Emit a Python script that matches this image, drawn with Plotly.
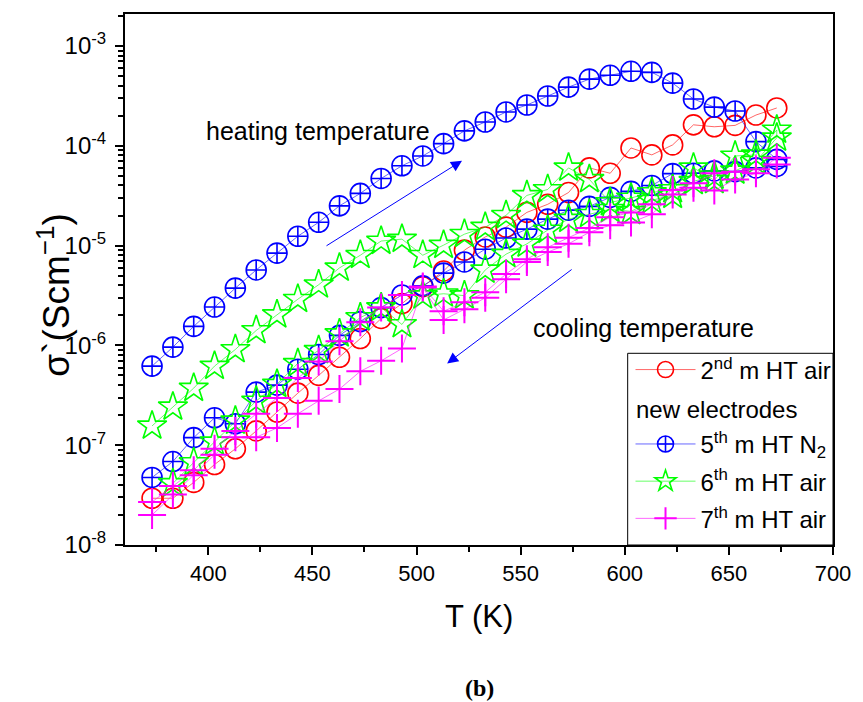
import plotly.graph_objects as go

# Temperatures (K)
T_heat = [373, 383, 393, 403, 413, 423, 433, 443, 453, 463, 473, 483, 493, 503, 513, 523,
          533, 543, 553, 563, 573, 583, 593, 603, 613, 623, 633, 643, 653, 663, 673]
T_cool = [673, 663, 653, 643, 633, 623, 613, 603, 593, 583, 573, 563, 553, 543, 533, 523,
          513, 503, 493, 483, 473, 463, 453, 443, 433, 423, 413, 403, 393, 383, 373]
T_cool_g = T_cool[:-1]

# 2nd measurement, HT air, new electrodes (single run)
sig_red = [2.94e-8, 2.94e-8, 4.24e-8, 6.4e-8, 9.2e-8, 1.39e-7, 2.15e-7, 3.32e-7, 5.0e-7, 7.6e-7,
           1.17e-6, 1.86e-6, 2.62e-6, 3.87e-6, 5.57e-6, 9.0e-6, 1.22e-5, 1.53e-5, 2.15e-5, 2.59e-5,
           3.4e-5, 6.0e-5, 5.3e-5, 9.5e-5, 8.1e-5, 1.02e-4, 1.62e-4, 1.55e-4, 1.6e-4, 2.03e-4, 2.39e-4]

# 5th measurement, HT N2
sig_blue_heat = [6.2e-7, 9.6e-7, 1.55e-6, 2.42e-6, 3.75e-6, 5.7e-6, 8.4e-6, 1.24e-5, 1.71e-5, 2.5e-5,
                 3.33e-5, 4.7e-5, 6.3e-5, 7.9e-5, 1.05e-4, 1.41e-4, 1.73e-4, 2.18e-4, 2.56e-4, 3.15e-4,
                 3.87e-4, 4.65e-4, 5.08e-4, 5.57e-4, 5.44e-4, 4.24e-4, 2.94e-4, 2.44e-4, 2.23e-4, 1.1e-4, 7.3e-5]
sig_blue_cool = [6.2e-5, 6.0e-5, 5.5e-5, 5.6e-5, 5.3e-5, 5.26e-5, 4.0e-5, 3.49e-5, 3.04e-5, 2.47e-5,
                 2.26e-5, 1.84e-5, 1.46e-5, 1.19e-5, 9.2e-6, 6.85e-6, 5.3e-6, 3.95e-6, 3.2e-6, 2.39e-6,
                 1.73e-6, 1.26e-6, 8.1e-7, 5.77e-7, 4.0e-7, 3.4e-7, 1.64e-7, 1.88e-7, 1.19e-7, 6.86e-8, 4.75e-8]

# 6th measurement, HT air
sig_green_heat = [1.56e-7, 2.42e-7, 3.73e-7, 6.2e-7, 9.1e-7, 1.41e-6, 2.03e-6, 2.9e-6, 4.05e-6, 5.97e-6,
                  8.0e-6, 1.11e-5, 1.16e-5, 8.0e-6, 1.01e-5, 1.3e-5, 1.53e-5, 2.01e-5, 3.18e-5, 3.65e-5,
                  6.0e-5, 4.6e-5, 2.7e-5, 3.0e-5, 3.4e-5, 3.65e-5, 6.0e-5, 4.5e-5, 7.9e-5, 8.1e-5, 1.44e-4]
sig_green_cool = [1.2e-4, 7.0e-5, 5.6e-5, 5.0e-5, 4.4e-5, 3.2e-5, 2.84e-5, 2.2e-5, 2.31e-5, 2.06e-5,
                  1.84e-5, 1.43e-5, 1.04e-5, 8.2e-6, 5.7e-6, 3.15e-6, 3.29e-6, 3.15e-6, 1.62e-6, 2.39e-6,
                  1.9e-6, 1.31e-6, 8.9e-7, 6.6e-7, 4.09e-7, 2.77e-7, 1.75e-7, 1.08e-7, 6.7e-8, 4.14e-8]

# 7th measurement, HT air
sig_mag_heat = [2.0e-8, 3.2e-8, 5.0e-8, 8.0e-8, 1.2e-7, 1.2e-7, 1.49e-7, 2.06e-7, 2.78e-7, 3.65e-7,
                5.5e-7, 7.0e-7, 9.3e-7, 3.8e-6, 1.8e-6, 2.3e-6, 3.0e-6, 4.6e-6, 6.85e-6, 8.6e-6,
                1.04e-5, 1.36e-5, 1.6e-5, 1.7e-5, 2.06e-5, 3.25e-5, 3.8e-5, 3.56e-5, 4.6e-5, 5.3e-5, 7.6e-5]
sig_mag_cool = [6.5e-5, 5.8e-5, 5.5e-5, 5.3e-5, 4.2e-5, 3.6e-5, 2.6e-5, 2.15e-5, 1.92e-5, 1.5e-5,
                1.2e-5, 9.6e-6, 7.3e-6, 5.2e-6, 3.4e-6, 2.7e-6, 2.2e-6, 3.9e-6, 3.2e-6, 2.4e-6,
                1.7e-6, 1.1e-6, 6.9e-7, 4.7e-7, 2.97e-7, 2.06e-7, 1.39e-7, 9.2e-8, 5.6e-8, 3.9e-8, 2.7e-8]

names = ["2<sup>nd</sup> m HT air", "5<sup>th</sup> m HT N<sub>2</sub>",
         "6<sup>th</sup> m HT air", "7<sup>th</sup> m HT air"]
legend_note = "new electrodes"

x_ticks = [400, 450, 500, 550, 600, 650, 700]
x_minor = [375, 425, 475, 525, 575, 625, 675]
y_ticks = [1e-8, 1e-7, 1e-6, 1e-5, 1e-4, 1e-3]
y_ticktext = ["10<sup>-8</sup>", "10<sup>-7</sup>", "10<sup>-6</sup>", "10<sup>-5</sup>",
              "10<sup>-4</sup>", "10<sup>-3</sup>"]
y_minor = [k * d for d in [1e-8, 1e-7, 1e-6, 1e-5, 1e-4, 1e-3] for k in range(2, 10) if k * d < 2.1e-3]

fig = go.Figure()
fig.add_trace(go.Scatter(x=T_heat, y=sig_red, name=names[0], mode="lines+markers", legendgroup="a",
                         line=dict(color="#FF0000", width=0.6),
                         marker=dict(symbol="circle-open", size=20, color="#FF0000", line=dict(width=1.6))))
# empty legend row that holds the "new electrodes" line
fig.add_trace(go.Scatter(x=[None], y=[None], name=" ", mode="markers", legendgroup="b",
                         marker=dict(opacity=0), hoverinfo="skip"))
fig.add_trace(go.Scatter(x=T_heat + T_cool, y=sig_blue_heat + sig_blue_cool, name=names[1],
                         mode="lines+markers", legendgroup="c",
                         line=dict(color="#0000FF", width=0.6),
                         marker=dict(symbol="circle-cross-open", size=20, color="#0000FF", line=dict(width=1.6))))
fig.add_trace(go.Scatter(x=T_heat + T_cool_g, y=sig_green_heat + sig_green_cool, name=names[2],
                         mode="lines+markers", legendgroup="d",
                         line=dict(color="#00FF00", width=0.6),
                         marker=dict(symbol="star-open", size=22, color="#00FF00", line=dict(width=1.6))))
fig.add_trace(go.Scatter(x=T_heat + T_cool, y=sig_mag_heat + sig_mag_cool, name=names[3],
                         mode="lines+markers", legendgroup="e",
                         line=dict(color="#FF00FF", width=0.6),
                         marker=dict(symbol="cross-thin-open", size=20, color="#FF00FF", line=dict(width=2))))

axis_common = dict(showline=True, linewidth=2, linecolor="black", mirror=True, ticks="outside",
                   tickwidth=2, tickcolor="black", ticklen=8, showgrid=False, zeroline=False)

fig.update_xaxes(range=[360, 700], tickmode="array", tickvals=x_ticks,
                 tickfont=dict(size=22, color="black"),
                 minor=dict(tickmode="array", tickvals=x_minor, ticks="outside", ticklen=5,
                            tickwidth=1.5, tickcolor="black"),
                 **axis_common)
fig.update_yaxes(type="log", range=[-8, -2.68], tickmode="array", tickvals=y_ticks, ticktext=y_ticktext,
                 tickfont=dict(size=24, color="black"), ticklabelstandoff=4,
                 minor=dict(tickmode="array", tickvals=y_minor, ticks="outside", ticklen=5,
                            tickwidth=1.5, tickcolor="black"),
                 **axis_common)

fig.update_layout(
    width=863, height=702,
    margin=dict(l=125, r=24, t=13, b=157),
    paper_bgcolor="white", plot_bgcolor="white",
    font=dict(family="Liberation Sans, Arial, sans-serif", color="black"),
    legend=dict(x=0.714, y=0.372, xanchor="left", yanchor="top", bgcolor="rgba(0,0,0,0)",
                borderwidth=0, font=dict(size=24), itemwidth=60, tracegroupgap=3,
                traceorder="grouped"),
    shapes=[dict(type="rect", xref="paper", yref="paper", x0=0.71, x1=1.0, y0=0.0, y1=0.361,
                 fillcolor="white", line=dict(color="black", width=1), layer="above")],
    annotations=[
        dict(text=legend_note, xref="paper", yref="paper", x=0.7185, y=0.2555, showarrow=False,
             font=dict(size=24), xanchor="left", yanchor="middle"),
        dict(text="T (K)", xref="paper", yref="paper", x=0.5, y=-0.135, showarrow=False,
             font=dict(size=31), xanchor="center", yanchor="middle"),
        dict(text="σ`(Scm<sup>−1</sup>)", xref="paper", yref="paper", x=-0.1, y=0.47,
             showarrow=False, textangle=-90, font=dict(size=37), xanchor="center", yanchor="middle"),
        dict(text="<b>(b)</b>", xref="paper", yref="paper", x=0.5, y=-0.269, showarrow=False,
             font=dict(size=24, family="Liberation Serif, Times New Roman, serif"),
             xanchor="center", yanchor="middle"),
        dict(text="heating temperature", xref="paper", yref="paper", x=0.273, y=0.78,
             showarrow=False, font=dict(size=25), xanchor="center", yanchor="middle"),
        dict(text="cooling temperature", xref="paper", yref="paper", x=0.7325, y=0.408,
             showarrow=False, font=dict(size=25), xanchor="center", yanchor="middle"),
        dict(text="", xref="paper", yref="paper", x=0.476, y=0.7237, ax=-137, ay=86,
             showarrow=True, arrowhead=2, arrowsize=2.2, arrowwidth=1, arrowcolor="#0000FF"),
        dict(text="", xref="paper", yref="paper", x=0.455, y=0.342, ax=126, ay=-95,
             showarrow=True, arrowhead=2, arrowsize=2.2, arrowwidth=1, arrowcolor="#0000FF"),
    ],
)

fig.write_html("out.html")
